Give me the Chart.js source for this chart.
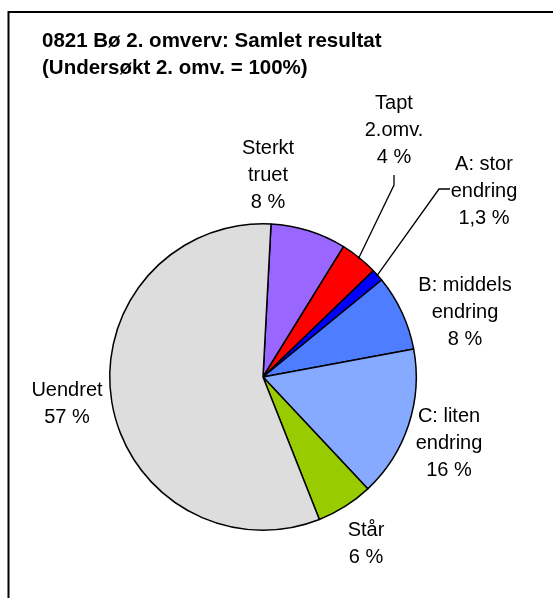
<!DOCTYPE html>
<html>
<head>
<meta charset="utf-8">
<script src="https://cdn.jsdelivr.net/npm/chart.js@4"></script>
<style>
    html, body { margin: 0; padding: 0; background: #fff; }
    #wrap { position: relative; width: 553px; height: 598px; overflow: hidden; }
</style>
</head>
<body>
<div id="wrap"><canvas id="pieChart" width="553" height="598"></canvas></div>
<script>
// Chart data
const titleLines = ['0821 Bø 2. omverv: Samlet resultat', '(Undersøkt 2. omv. = 100%)'];
const categories = ['Sterkt truet', 'Tapt 2.omv.', 'A: stor endring', 'B: middels endring', 'C: liten endring', 'Står', 'Uendret'];
const categoryLines = [['Sterkt', 'truet'], ['Tapt', '2.omv.'], ['A: stor', 'endring'], ['B: middels', 'endring'], ['C: liten', 'endring'], ['Står'], ['Uendret']];
const values = [8, 4, 1.3, 8, 16, 6, 57];
const sliceColors = ['#9966FF', '#FF0000', '#0000FF', '#4F7DFF', '#86AAFF', '#99CC00', '#DDDDDD'];

// Label placement (offset of the label block centre from the pie centre)
const labelOffsets = [[5, -202], [131, -247], [221, -186], [202, -65], [186, 66], [103, 167], [-196, 27]];
// Leader lines: points relative to pie centre, then to the slice edge
const leaders = { 1: [[131, -202], [131, -192]], 2: [[187, -188], [176, -188]] };

const FONT = '"Liberation Sans", Arial, sans-serif';
const LINE_H = 27;

const pieText = {
    id: 'pieText',
    beforeDraw(chart) {
        const ctx = chart.ctx;
        ctx.save();
        ctx.fillStyle = '#fff';
        ctx.fillRect(0, 0, chart.width, chart.height);
        // frame
        ctx.strokeStyle = '#000';
        ctx.lineWidth = 2;
        ctx.strokeRect(8.5, 12, 700, 700);
        ctx.restore();
    },
    afterDraw(chart) {
        const ctx = chart.ctx;
        const arcs = chart.getDatasetMeta(0).data;
        ctx.save();

        // title
        ctx.fillStyle = '#000';
        ctx.font = 'bold 20.5px ' + FONT;
        ctx.textAlign = 'left';
        ctx.textBaseline = 'alphabetic';
        titleLines.forEach((t, i) => ctx.fillText(t, 42, 47 + i * 27));

        // labels
        ctx.font = '20px ' + FONT;
        ctx.textAlign = 'center';
        ctx.textBaseline = 'middle';
        arcs.forEach((arc, i) => {
            const cx = arc.x, cy = arc.y;
            const lines = categoryLines[i].concat([String(values[i]).replace('.', ',') + ' %']);
            const [ox, oy] = labelOffsets[i];
            const top = cy + oy - (lines.length - 1) * LINE_H / 2;
            lines.forEach((l, j) => ctx.fillText(l, cx + ox, top + j * LINE_H));

            if (leaders[i]) {
                const mid = (arc.startAngle + arc.endAngle) / 2;
                const r = arc.outerRadius * 0.99;
                ctx.beginPath();
                ctx.strokeStyle = '#000';
                ctx.lineWidth = 1.3;
                leaders[i].forEach((p, k) => {
                    if (k === 0) ctx.moveTo(cx + p[0], cy + p[1]);
                    else ctx.lineTo(cx + p[0], cy + p[1]);
                });
                ctx.lineTo(cx + Math.cos(mid) * r, cy + Math.sin(mid) * r);
                ctx.stroke();
            }
        });
        ctx.restore();
    }
};

new Chart(document.getElementById('pieChart'), {
    type: 'pie',
    data: {
        labels: categories,
        datasets: [{
            data: values,
            backgroundColor: sliceColors,
            borderColor: '#000',
            borderWidth: 1.5
        }]
    },
    options: {
        responsive: false,
        animation: false,
        rotation: 3,
        layout: { padding: { left: 109, right: 136, top: 223, bottom: 67 } },
        plugins: {
            legend: { display: false },
            title: { display: false },
            tooltip: { enabled: false }
        }
    },
    plugins: [pieText]
});
</script>
</body>
</html>
